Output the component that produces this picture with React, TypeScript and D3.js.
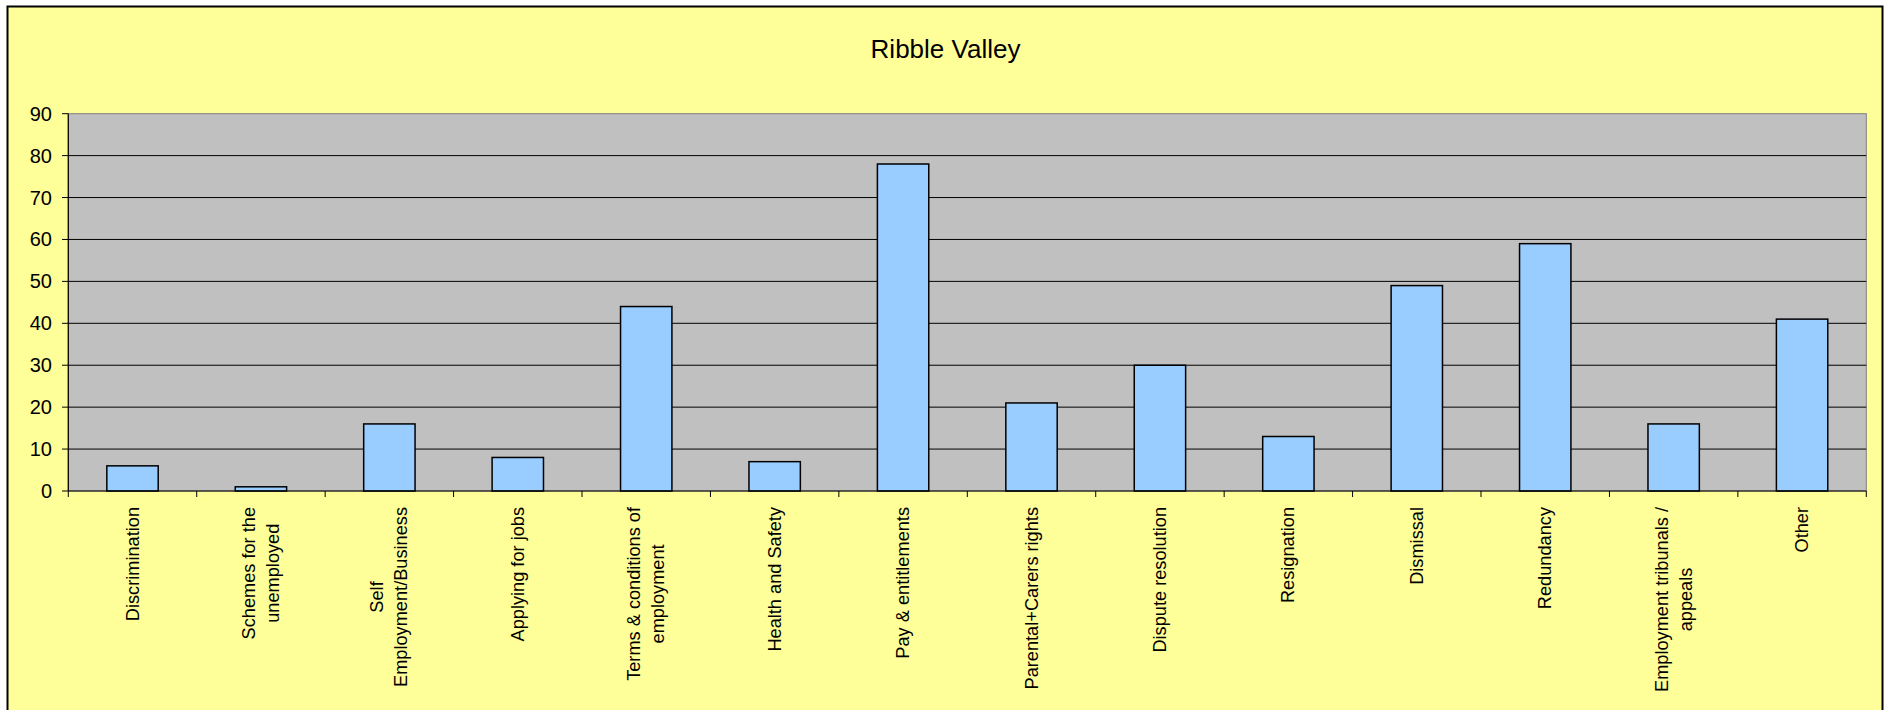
import React, { useMemo } from "react";
import * as d3 from "d3";

const title = "Ribble Valley";
const categories: string[][] = [
  ["Discrimination"],
  ["Schemes for the", "unemployed"],
  ["Self", "Employment/Business"],
  ["Applying for jobs"],
  ["Terms & conditions of", "employment"],
  ["Health and Safety"],
  ["Pay & entitlements"],
  ["Parental+Carers rights"],
  ["Dispute resolution"],
  ["Resignation"],
  ["Dismissal"],
  ["Redundancy"],
  ["Employment tribunals /", "appeals"],
  ["Other"],
];
const values: number[] = [6, 1, 16, 8, 44, 7, 78, 21, 30, 13, 49, 59, 16, 41];
const yTicks: number[] = [0, 10, 20, 30, 40, 50, 60, 70, 80, 90];

const W = 1886;
const H = 710;
const plot = { left: 68.3, right: 1866.3, top: 113.7, bottom: 491 };
const FONT = "'Liberation Sans', Arial, sans-serif";
const catFont = 18.2;
const lineGap = 23.8;

function measure(text: string, size: number): number {
  if (typeof document === "undefined") return text.length * size * 0.5;
  const c = document.createElement("canvas");
  const ctx = c.getContext("2d");
  if (!ctx) return text.length * size * 0.5;
  ctx.font = `${size}px 'Liberation Sans'`;
  return ctx.measureText(text).width;
}

export default function App() {
  const x = d3
    .scaleBand<number>()
    .domain(d3.range(categories.length))
    .range([plot.left, plot.right])
    .paddingInner(0)
    .paddingOuter(0);
  const bw = x.bandwidth() * 0.4;
  const y = d3.scaleLinear().domain([0, 90]).range([plot.bottom, plot.top]);

  const widths = useMemo(
    () => categories.map((lines) => Math.max(...lines.map((l) => measure(l, catFont)))),
    []
  );

  return (
    <svg
      width={W}
      height={H}
      style={{ position: "absolute", left: 0, top: 0, display: "block" }}
      fontFamily={FONT}
    >
      <rect x={0} y={0} width={W} height={H} fill="#ffffff" />
      <rect x={7.5} y={6.5} width={1875} height={H + 20} fill="#FFFF99" stroke="#000" strokeWidth={2} />
      <text x={945.5} y={57.5} textAnchor="middle" fontSize={26} fill="#000">
        {title}
      </text>
      <rect
        x={plot.left}
        y={plot.top}
        width={plot.right - plot.left}
        height={plot.bottom - plot.top}
        fill="#C0C0C0"
        stroke="#808080"
        strokeWidth={1}
      />
      {yTicks.map((t) => (
        <g key={t}>
          {t > 0 && t < 90 && (
            <line x1={plot.left} x2={plot.right} y1={y(t)} y2={y(t)} stroke="#000" strokeWidth={1} />
          )}
          <line x1={62} x2={plot.left} y1={y(t)} y2={y(t)} stroke="#000" strokeWidth={1} />
          <text
            x={52}
            y={y(t)}
            textAnchor="end"
            dominantBaseline="central"
            fontSize={20}
            fill="#000"
          >
            {t}
          </text>
        </g>
      ))}
      {values.map((v, i) => {
        const cx = (x(i) as number) + x.bandwidth() / 2;
        return (
          <rect
            key={i}
            x={cx - bw / 2}
            y={y(v)}
            width={bw}
            height={y(0) - y(v)}
            fill="#99CCFF"
            stroke="#000"
            strokeWidth={1.5}
          />
        );
      })}
      <line x1={plot.left} x2={plot.left} y1={plot.top} y2={plot.bottom} stroke="#000" strokeWidth={1.2} />
      <line x1={plot.left} x2={plot.right} y1={plot.bottom} y2={plot.bottom} stroke="#000" strokeWidth={1.2} />
      {d3.range(categories.length + 1).map((i) => {
        const xx = i < categories.length ? (x(i) as number) : plot.right;
        return <line key={i} x1={xx} x2={xx} y1={plot.bottom} y2={plot.bottom + 6} stroke="#000" strokeWidth={1} />;
      })}
      {categories.map((lines, i) => {
        const cx = (x(i) as number) + x.bandwidth() / 2;
        const cy = 507 + widths[i] / 2;
        const n = lines.length;
        return (
          <g key={i} transform={`translate(${cx},${cy}) rotate(-90)`}>
            {lines.map((l, j) => (
              <text
                key={j}
                x={0}
                y={(j - (n - 1) / 2) * lineGap}
                textAnchor="middle"
                dominantBaseline="central"
                fontSize={catFont}
                fill="#000"
              >
                {l}
              </text>
            ))}
          </g>
        );
      })}
    </svg>
  );
}
